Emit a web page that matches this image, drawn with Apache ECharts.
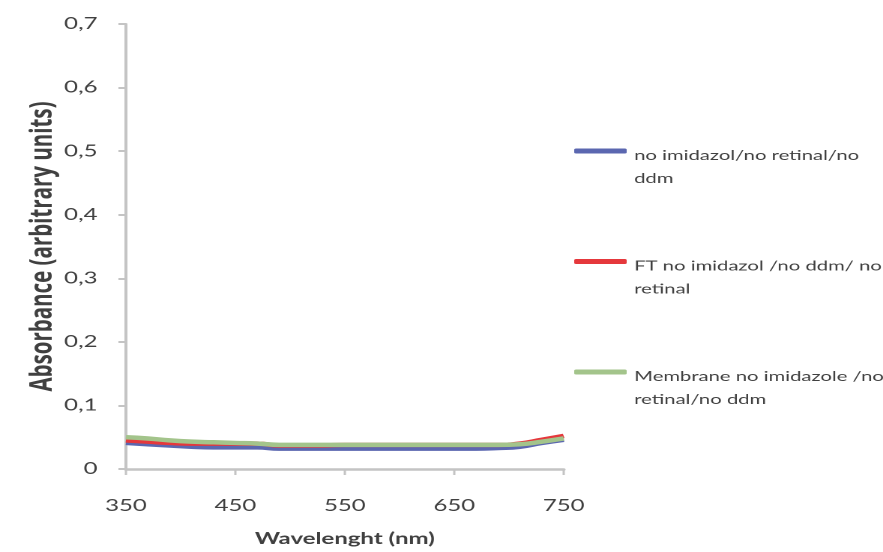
<!DOCTYPE html>
<html>
<head>
<meta charset="utf-8">
<script src="https://cdn.jsdelivr.net/npm/echarts@6/dist/echarts.min.js"></script>
<style>
  html, body { margin: 0; padding: 0; background: #fff; overflow: hidden; }
  #wrap { width: 883px; height: 552px; overflow: hidden; }
  /* The figure is laid out on a narrower canvas and widened 1.5x, giving its wide lettering */
  #chart { width: 589px; height: 552px; transform: scaleX(1.4992); transform-origin: 0 0; }
</style>
</head>
<body>
<div id="wrap"><div id="chart"></div></div>
<script>
// Wavelength grid (nm)
const wavelengths = [350, 370, 390, 410, 430, 450, 470, 490, 510, 530, 550,
                     570, 590, 610, 630, 650, 670, 690, 710, 730, 750];

// Absorbance readings for each sample
const noImidazol = [0.041, 0.039, 0.037, 0.035, 0.034, 0.034, 0.034, 0.032, 0.032, 0.032, 0.032,
                    0.032, 0.032, 0.032, 0.032, 0.032, 0.032, 0.033, 0.035, 0.041, 0.046];
const ftNoImidazol = [0.045, 0.043, 0.041, 0.040, 0.040, 0.040, 0.040, 0.037, 0.037, 0.037, 0.038,
                      0.038, 0.038, 0.038, 0.038, 0.038, 0.038, 0.038, 0.040, 0.046, 0.052];
const membrane = [0.050, 0.048, 0.045, 0.043, 0.042, 0.041, 0.040, 0.038, 0.038, 0.038, 0.038,
                  0.038, 0.038, 0.038, 0.038, 0.038, 0.038, 0.038, 0.039, 0.043, 0.048];

const seriesNames = [
  'no imidazol/no retinal/no ddm',
  'FT no imidazol /no ddm/ no retinal',
  'Membrane no imidazole /no retinal/no ddm'
];
const legendLines = [
  ['no imidazol/no retinal/no', 'ddm'],
  ['FT no imidazol /no ddm/ no', 'retinal'],
  ['Membrane no imidazole /no', 'retinal/no ddm']
];
const colors = ['#5b67b0', '#e5383c', '#a3c48b'];

const yTicks = ['0', '0,1', '0,2', '0,3', '0,4', '0,5', '0,6', '0,7'];

const chart = echarts.init(document.getElementById('chart'), null, { renderer: 'canvas', devicePixelRatio: 2 });
const font = 'Lato, "Open Sans", sans-serif';
const axisGray = '#c4c4c4';
const textGray = '#404040';

chart.setOption({
  animation: false,
  backgroundColor: '#ffffff',
  grid: { left: 84, right: 213, top: 24, bottom: 80, containLabel: false },
  xAxis: {
    type: 'category',
    data: wavelengths,
    boundaryGap: false,
    name: 'Wavelenght (nm)',
    nameLocation: 'middle',
    nameGap: 62,
    nameTextStyle: { fontFamily: font, fontSize: 16, fontWeight: 'bold', color: textGray },
    axisLine: { lineStyle: { color: axisGray, width: 2.5 } },
    axisTick: { interval: 4, length: 6, lineStyle: { color: axisGray, width: 1.5 } },
    axisLabel: { interval: 4, margin: 29, fontFamily: font, fontSize: 16, color: textGray },
    splitLine: { show: false }
  },
  yAxis: {
    type: 'value',
    min: 0,
    max: 0.7,
    interval: 0.1,
    name: 'Absorbance (arbitrary units)',
    nameLocation: 'middle',
    nameGap: 45,
    nameRotate: 90,
    nameTextStyle: { fontFamily: '"Open Sans", sans-serif', fontSize: 20.5, fontWeight: 'bold', color: textGray },
    axisLine: { show: true, lineStyle: { color: axisGray, width: 2 } },
    axisTick: { show: true, length: 5, lineStyle: { color: axisGray, width: 2 } },
    axisLabel: {
      margin: 19, fontFamily: font, fontSize: 16, color: textGray,
      formatter: (v) => yTicks[Math.round(v * 10)]
    },
    splitLine: { show: false }
  },
  legend: {
    orient: 'vertical',
    left: 383,
    top: 123,
    padding: 0,
    itemWidth: 35,
    itemHeight: 5,
    itemGap: 48,
    icon: 'roundRect',
    data: seriesNames,
    formatter: (name) => {
      const l = legendLines[seriesNames.indexOf(name)];
      return '{pad| }\n{t|' + l[0] + '}\n{t|' + l[1] + '}';
    },
    textStyle: {
      fontFamily: font, fontSize: 13.5, color: textGray,
      rich: {
        pad: { fontSize: 10, lineHeight: 32 },
        t: { fontFamily: font, fontSize: 13.5, color: textGray, lineHeight: 23 }
      }
    }
  },
  series: [noImidazol, ftNoImidazol, membrane].map((vals, i) => ({
    name: seriesNames[i],
    type: 'line',
    data: vals,
    smooth: true,
    symbol: 'none',
    lineStyle: { color: colors[i], width: 4.5 },
    itemStyle: { color: colors[i] },
    z: 2 + i
  }))
});
</script>
</body>
</html>
